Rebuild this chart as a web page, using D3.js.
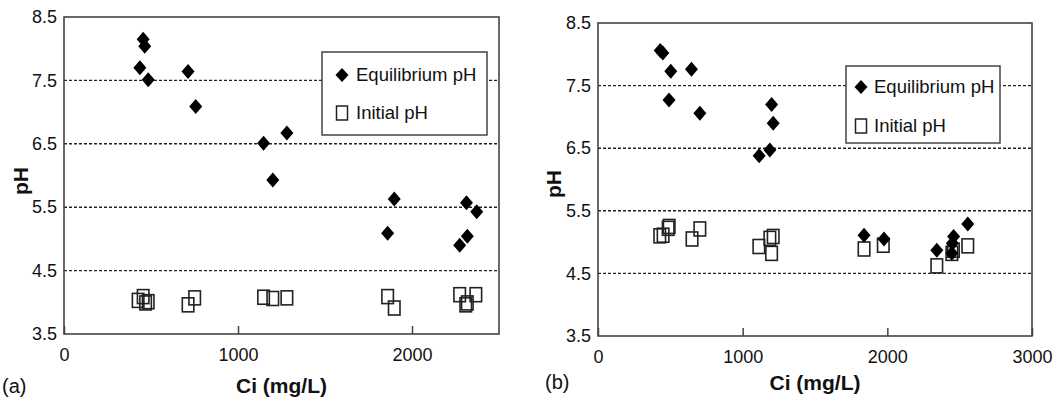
<!DOCTYPE html>
<html>
<head>
<meta charset="utf-8">
<script src="https://cdn.jsdelivr.net/npm/d3@7"></script>
<style>
  html, body { margin: 0; padding: 0; background: #fff; }
  svg text { font-family: "Liberation Sans", Arial, Helvetica, sans-serif; fill: #111; }
</style>
</head>
<body>
<svg id="chart" width="1056" height="397"></svg>
<script>
// Panel (a): Ci (mg/L) vs pH
const aEquilibriumCi = [455, 464, 436, 484, 713, 757, 1147, 1281, 1200, 1898, 1860, 2313, 2372, 2318, 2274];
const aEquilibriumPH = [8.15, 8.04, 7.70, 7.51, 7.64, 7.09, 6.51, 6.67, 5.93, 5.63, 5.09, 5.57, 5.43, 5.04, 4.90];
const aInitialCi = [426, 455, 484, 469, 713, 751, 1147, 1200, 1281, 1860, 1898, 2274, 2367, 2318, 2309];
const aInitialPH = [4.03, 4.09, 4.01, 3.99, 3.96, 4.07, 4.08, 4.06, 4.07, 4.09, 3.91, 4.12, 4.12, 3.99, 3.96];

// Panel (b): Ci (mg/L) vs pH
const bEquilibriumCi = [430, 448, 503, 491, 646, 704, 1114, 1188, 1200, 1211, 1839, 1977, 2342, 2458, 2450, 2446, 2556];
const bEquilibriumPH = [8.06, 8.02, 7.73, 7.27, 7.76, 7.06, 6.38, 6.47, 7.20, 6.90, 5.11, 5.05, 4.87, 5.09, 4.98, 4.82, 5.29];
const bInitialCi = [427, 450, 492, 485, 650, 704, 1112, 1188, 1211, 1200, 1839, 1972, 2342, 2446, 2457, 2556];
const bInitialPH = [5.10, 5.11, 5.25, 5.22, 5.05, 5.21, 4.93, 5.06, 5.09, 4.82, 4.89, 4.95, 4.62, 4.82, 4.87, 4.94];

const yTicks = [3.5, 4.5, 5.5, 6.5, 7.5, 8.5];
const gridValues = [4.5, 5.5, 6.5, 7.5];
const aXTicks = [0, 1000, 2000];
const bXTicks = [0, 1000, 2000, 3000];
const seriesNames = ["Equilibrium pH", "Initial pH"];
const xTitle = "Ci (mg/L)";
const yTitle = "pH";

const svg = d3.select("#chart");

const diamond = (w, h) => `M0,${-h / 2}L${w / 2},0L0,${h / 2}L${-w / 2},0Z`;

function drawPanel(cfg) {
  const x = d3.scaleLinear().domain(cfg.xDomain).range([cfg.left, cfg.right]);
  const y = d3.scaleLinear().domain([3.5, 8.5]).range([cfg.bottom, cfg.top]);
  const g = svg.append("g");

  // dotted horizontal gridlines
  g.selectAll("line.grid").data(gridValues).join("line")
    .attr("class", "grid")
    .attr("x1", cfg.left).attr("x2", cfg.right)
    .attr("y1", d => y(d)).attr("y2", d => y(d))
    .attr("stroke", "#222").attr("stroke-width", 1.4)
    .attr("stroke-dasharray", "3,2");

  // x axis: inward ticks
  const xAxis = g.append("g")
    .attr("transform", `translate(0,${cfg.bottom})`)
    .call(d3.axisBottom(x).tickValues(cfg.xTicks).tickFormat(d3.format("d"))
      .tickSizeInner(-8).tickSizeOuter(0).tickPadding(cfg.xTickPad));
  xAxis.select(".domain").remove();
  xAxis.selectAll(".tick line").attr("stroke", "#444").attr("stroke-width", 1.5);
  xAxis.selectAll("text").attr("font-size", 18).attr("fill", "#111");

  // y axis labels
  const yAxis = g.append("g")
    .attr("transform", `translate(${cfg.left},0)`)
    .call(d3.axisLeft(y).tickValues(yTicks).tickFormat(d3.format(".1f"))
      .tickSize(0).tickPadding(7));
  yAxis.select(".domain").remove();
  yAxis.selectAll("text").attr("font-size", 18).attr("fill", "#111");

  // plot frame
  g.append("rect")
    .attr("x", cfg.left).attr("y", cfg.top)
    .attr("width", cfg.right - cfg.left).attr("height", cfg.bottom - cfg.top)
    .attr("fill", "none").attr("stroke", "#444").attr("stroke-width", 1.6);

  // initial pH: open squares
  const sw = 11.5, sh = 14;
  g.selectAll("rect.init").data(cfg.initCi.map((c, i) => [c, cfg.initPH[i]])).join("rect")
    .attr("class", "init")
    .attr("x", d => x(d[0]) - sw / 2).attr("y", d => y(d[1]) - sh / 2)
    .attr("width", sw).attr("height", sh)
    .attr("fill", "none").attr("stroke", "#222").attr("stroke-width", 1.6);

  // equilibrium pH: filled diamonds
  g.selectAll("path.eq").data(cfg.eqCi.map((c, i) => [c, cfg.eqPH[i]])).join("path")
    .attr("class", "eq")
    .attr("d", diamond(13, 15))
    .attr("transform", d => `translate(${x(d[0])},${y(d[1])})`)
    .attr("fill", "#000");

  // legend
  const L = cfg.legend;
  g.append("rect")
    .attr("x", L.x).attr("y", L.y).attr("width", L.w).attr("height", L.h)
    .attr("fill", "#fff").attr("stroke", "#444").attr("stroke-width", 1.5);
  g.append("path").attr("d", diamond(13, 14))
    .attr("transform", `translate(${L.x + L.mx},${L.y + L.row1})`).attr("fill", "#000");
  g.append("rect")
    .attr("x", L.x + L.mx - 5.5).attr("y", L.y + L.row2 - 7).attr("width", 11).attr("height", 14)
    .attr("fill", "none").attr("stroke", "#222").attr("stroke-width", 1.5);
  g.selectAll("text.leg").data(seriesNames).join("text")
    .attr("class", "leg")
    .attr("x", L.x + L.tx).attr("y", (d, i) => L.y + (i === 0 ? L.row1 : L.row2))
    .attr("dy", "0.35em").attr("font-size", 18.5).text(d => d);

  // axis titles
  g.append("text")
    .attr("x", (cfg.left + cfg.right) / 2).attr("y", cfg.xTitleY)
    .attr("text-anchor", "middle").attr("font-size", 21).attr("font-weight", "bold")
    .text(xTitle);
  g.append("text")
    .attr("transform", `translate(${cfg.yTitleX},${cfg.yTitleY}) rotate(-90)`)
    .attr("text-anchor", "middle").attr("dy", "0.35em")
    .attr("font-size", 21).attr("font-weight", "bold")
    .text(yTitle);

  // panel label
  g.append("text")
    .attr("x", cfg.tagX).attr("y", cfg.tagY)
    .attr("font-size", 20).text(cfg.tag);
}

drawPanel({
  left: 64, right: 499, top: 17, bottom: 334,
  xDomain: [0, 2500], xTicks: aXTicks, xTickPad: 14,
  eqCi: aEquilibriumCi, eqPH: aEquilibriumPH,
  initCi: aInitialCi, initPH: aInitialPH,
  legend: { x: 322, y: 52, w: 165, h: 83, mx: 20, tx: 34, row1: 23, row2: 61 },
  xTitleY: 393, yTitleX: 21, yTitleY: 181,
  tag: "(a)", tagX: 2, tagY: 393
});

drawPanel({
  left: 598, right: 1032, top: 23, bottom: 336,
  xDomain: [0, 3000], xTicks: bXTicks, xTickPad: 14,
  eqCi: bEquilibriumCi, eqPH: bEquilibriumPH,
  initCi: bInitialCi, initPH: bInitialPH,
  legend: { x: 846, y: 66, w: 154, h: 77, mx: 15, tx: 28, row1: 21, row2: 60 },
  xTitleY: 390, yTitleX: 554, yTitleY: 184,
  tag: "(b)", tagX: 545, tagY: 389
});
</script>
</body>
</html>
